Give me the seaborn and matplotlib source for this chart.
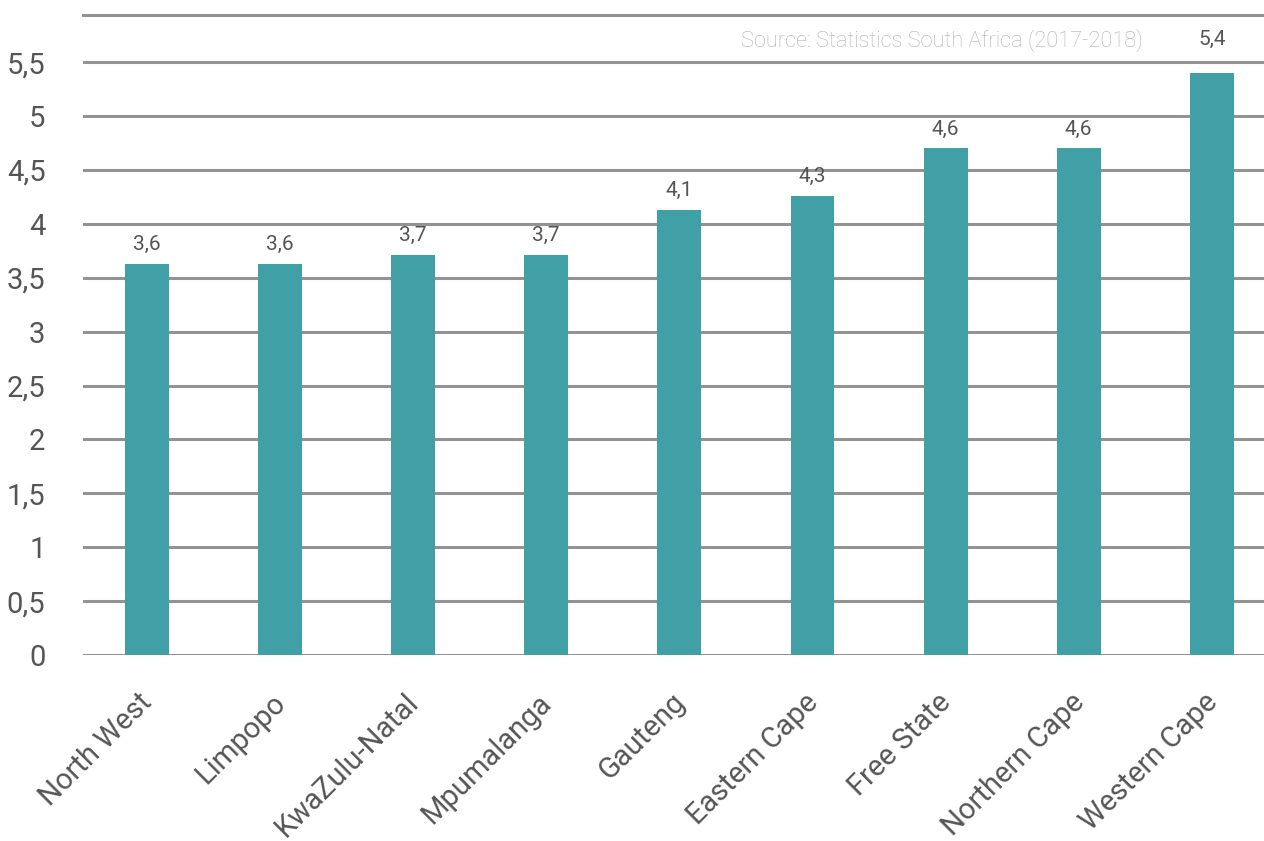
import matplotlib
matplotlib.use("Agg")
import matplotlib.pyplot as plt
import matplotlib.transforms as mtransforms
import seaborn as sns
import pandas as pd

provinces = ["North West", "Limpopo", "KwaZulu-Natal", "Mpumalanga", "Gauteng",
             "Eastern Cape", "Free State", "Northern Cape", "Western Cape"]
values = [3.63, 3.63, 3.71, 3.71, 4.13, 4.26, 4.70, 4.70, 5.40]
value_labels = ["3,6", "3,6", "3,7", "3,7", "4,1", "4,3", "4,6", "4,6", "5,4"]
y_ticks = [0, 0.5, 1, 1.5, 2, 2.5, 3, 3.5, 4, 4.5, 5, 5.5]
y_tick_labels = ["0", "0,5", "1", "1,5", "2", "2,5", "3", "3,5", "4", "4,5", "5", "5,5"]
source_text = "Source: Statistics South Africa (2017-2018)"

sns.set_theme(style="white")
plt.rcParams["font.family"] = ["Roboto", "DejaVu Sans"]

W, H = 1264, 841
GRID = "#939393"
fig = plt.figure(figsize=(W / 100, H / 100), dpi=100)
ax = fig.add_axes([83 / W, 186 / H, 1181 / W, 640 / H])

df = pd.DataFrame({"province": provinces, "value": values})
sns.barplot(data=df, x="province", y="value", color="#40A0A5", saturation=1,
            width=0.33, linewidth=0, ax=ax, zorder=3)

ax.set_xlim(-0.48, 8.392)
ax.set_ylim(0, 5.937)
ax.set_yticks(y_ticks)
ax.set_yticklabels(y_tick_labels)
ax.grid(axis="y", color=GRID, linewidth=2.2, zorder=0)
ax.grid(axis="x", visible=False)
ax.set_axisbelow(True)
for name, s in ax.spines.items():
    s.set_visible(name == "top")
ax.spines["top"].set_color(GRID)
ax.spines["top"].set_linewidth(2.2)
ax.set_xlabel("")
ax.set_ylabel("")
ax.tick_params(axis="y", length=0, pad=27, labelsize=21, labelcolor="#555555")
ax.tick_params(axis="x", length=0, pad=24, labelsize=21, labelcolor="#555555")
shift = mtransforms.ScaledTranslation(11 / 100, 0, fig.dpi_scale_trans)
for lab in ax.get_xticklabels():
    lab.set_rotation(45)
    lab.set_ha("right")
    lab.set_rotation_mode("default")
    lab.set_transform(lab.get_transform() + shift)

texts = ax.bar_label(ax.containers[0], labels=value_labels, padding=7,
                     fontsize=15, color="#555555")
texts[-1].xyann = (0, 17)

fig.text(1143 / W, 1 - 41 / H, source_text, ha="right", va="center",
         fontsize=15.7, color="#B0B0B0", fontweight="light")

fig.savefig("out.png", dpi=100)
